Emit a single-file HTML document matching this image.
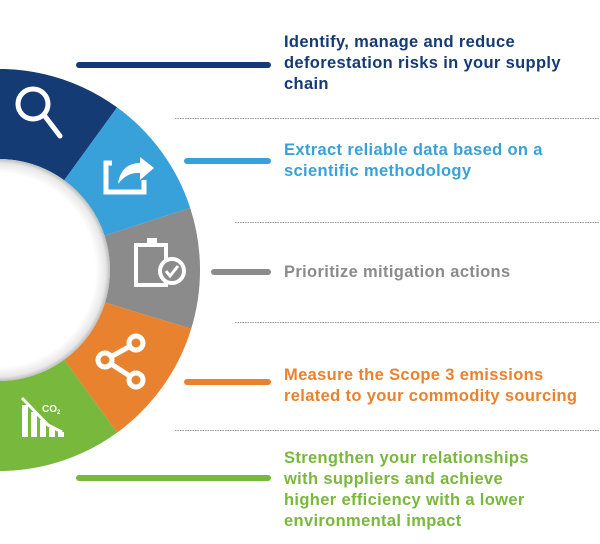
<!DOCTYPE html>
<html><head><style>
html,body{margin:0;padding:0;background:#fff;width:600px;height:544px;overflow:hidden}
.t{position:absolute;left:284px;font-family:"Liberation Sans",sans-serif;font-weight:bold;font-size:16.5px;letter-spacing:0.35px;line-height:21px;white-space:nowrap}
</style></head><body>
<svg width="600" height="544" style="position:absolute;left:0;top:0">
<defs>
<radialGradient id="ig" cx="-1" cy="270" r="111" gradientUnits="userSpaceOnUse">
<stop offset="0.87" stop-color="#fff"/><stop offset="0.96" stop-color="#e8e8e8"/><stop offset="1" stop-color="#bdbdbd"/>
</radialGradient>
</defs>
<path d="M-35.9,72 A201,201 0 0 1 117.1,107.4 L64.2,180.2 A111,111 0 0 0 -20.3,160.7Z" fill="#143b73"/>
<path d="M117.1,107.4 A201,201 0 0 1 190.2,207.9 L104.6,235.7 A111,111 0 0 0 64.2,180.2Z" fill="#38a1da"/>
<path d="M190.2,207.9 A201,201 0 0 1 191.2,328.8 L105.1,302.5 A111,111 0 0 0 104.6,235.7Z" fill="#8b8b8b"/>
<path d="M191.2,328.8 A201,201 0 0 1 117.1,432.6 L64.2,359.8 A111,111 0 0 0 105.1,302.5Z" fill="#e8822f"/>
<path d="M117.1,432.6 A201,201 0 0 1 -35.9,468 L-20.3,379.3 A111,111 0 0 0 64.2,359.8Z" fill="#78b83c"/>
<circle cx="-1" cy="270" r="111" fill="url(#ig)"/>
<circle cx="33" cy="104" r="15" fill="none" stroke="#fff" stroke-width="5"/>
<line x1="44" y1="115" x2="60" y2="136" stroke="#fff" stroke-width="5" stroke-linecap="round"/>
<path d="M112,163 L106,163 L106,192 L144,192 L144,180" fill="none" stroke="#fff" stroke-width="5"/>
<path d="M118,184 C120,168 130,163 140,163 L140,157 L154,168 L140,180 L140,173 C132,172 124,176 118,184Z" fill="#fff"/>
<rect x="136" y="245" width="30" height="40" fill="none" stroke="#fff" stroke-width="4"/>
<rect x="147" y="238" width="10" height="8" fill="#fff"/>
<circle cx="172" cy="271" r="12" fill="#8b8b8b" stroke="#fff" stroke-width="4"/>
<path d="M166,271 L170,276 L178,266" fill="none" stroke="#fff" stroke-width="3"/>
<g stroke="#fff" stroke-width="5" fill="#e8822f">
<line x1="105" y1="360" x2="136" y2="343"/><line x1="105" y1="360" x2="136" y2="380"/>
<circle cx="105" cy="360" r="7"/><circle cx="136" cy="343" r="7"/><circle cx="136" cy="380" r="7"/>
</g>
<g fill="#fff">
<rect x="22" y="405" width="6" height="32"/><rect x="31" y="412" width="6" height="25"/><rect x="40" y="420" width="6" height="17"/><rect x="49" y="428" width="6" height="9"/><rect x="58" y="432" width="6" height="5"/>
</g>
<path d="M22,398 L48,425 L62,432" fill="none" stroke="#fff" stroke-width="3"/>
<text x="42" y="412" font-family="Liberation Sans" font-weight="bold" font-size="10" fill="#fff">CO<tspan font-size="6" dy="2">2</tspan></text>
<g stroke-width="6" stroke-linecap="round">
<line x1="79" y1="65" x2="268" y2="65" stroke="#143b73"/>
<line x1="187" y1="161" x2="268" y2="161" stroke="#38a1da"/>
<line x1="214" y1="272" x2="268" y2="272" stroke="#8b8b8b"/>
<line x1="187" y1="382" x2="268" y2="382" stroke="#e8822f"/>
<line x1="79" y1="478" x2="268" y2="478" stroke="#78b83c"/>
</g>
<g stroke="#999" stroke-width="1" stroke-dasharray="1.5 1">
<line x1="175" y1="118.5" x2="600" y2="118.5"/>
<line x1="235" y1="222.5" x2="600" y2="222.5"/>
<line x1="235" y1="322.5" x2="600" y2="322.5"/>
<line x1="175" y1="430.5" x2="600" y2="430.5"/>
</g>
</svg>
<div class="t" style="top:32px;color:#143b73">Identify, manage and reduce<br>deforestation risks in your supply<br>chain</div>
<div class="t" style="top:140px;color:#38a1da">Extract reliable data based on a<br>scientific methodology</div>
<div class="t" style="top:262px;color:#8b8b8b">Prioritize mitigation actions</div>
<div class="t" style="top:365px;color:#e8822f">Measure the Scope 3 emissions<br>related to your commodity sourcing</div>
<div class="t" style="top:448px;color:#78b83c">Strengthen your relationships<br>with suppliers and achieve<br>higher efficiency with a lower<br>environmental impact</div>
</body></html>
